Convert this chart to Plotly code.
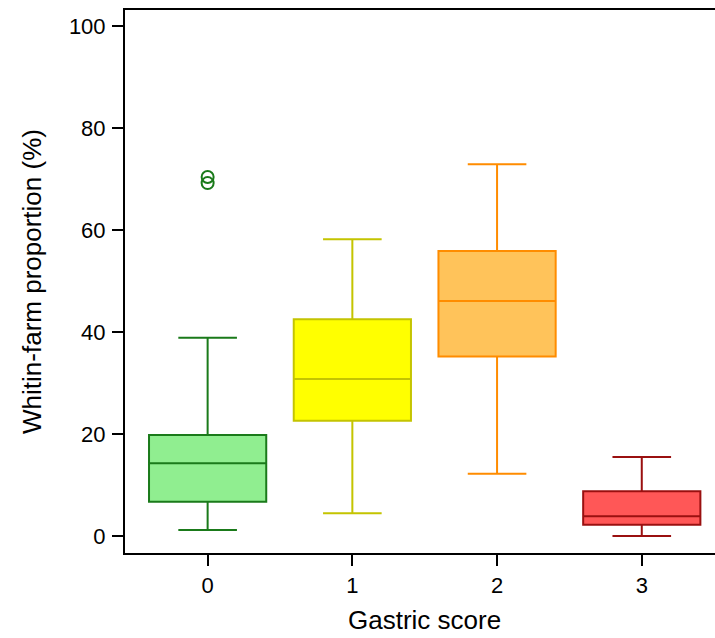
import plotly.graph_objects as go

categories = [0, 1, 2, 3]
tick_labels = ["0", "1", "2", "3"]
q1 = [6.7, 22.6, 35.2, 2.2]
median = [14.25, 30.8, 46.1, 3.9]
q3 = [19.8, 42.5, 55.9, 8.8]
lower_whisker = [1.2, 4.45, 12.2, 0.0]
upper_whisker = [38.9, 58.2, 72.9, 15.5]
outlier_x = [0, 0]
outlier_y = [70.4, 69.2]

fill_colors = ["#90ee90", "#ffff00", "#ffc35a", "#ff5757"]
line_colors = ["#1a7a1a", "#c4c400", "#ff8c00", "#9a1010"]

fig = go.Figure()
for i, c in enumerate(categories):
    fig.add_trace(go.Box(
        x=[c], q1=[q1[i]], median=[median[i]], q3=[q3[i]],
        lowerfence=[lower_whisker[i]], upperfence=[upper_whisker[i]],
        width=0.81, whiskerwidth=0.5, boxpoints=False,
        fillcolor=fill_colors[i],
        line=dict(color=line_colors[i], width=2),
        showlegend=False, hoverinfo="skip",
    ))

fig.add_trace(go.Scatter(
    x=outlier_x, y=outlier_y, mode="markers",
    marker=dict(symbol="circle-open", size=12, color=line_colors[0],
                line=dict(width=2, color=line_colors[0])),
    showlegend=False, hoverinfo="skip",
))

fig.update_layout(
    width=715, height=638,
    margin=dict(l=125, r=0, t=10, b=85),
    paper_bgcolor="white", plot_bgcolor="white",
    font=dict(family="Liberation Sans, Arial, sans-serif", color="black"),
    xaxis=dict(
        range=[-0.571, 3.506], tickvals=categories, ticktext=tick_labels,
        showline=True, linecolor="black", linewidth=2, mirror=True,
        ticks="outside", ticklen=11, tickwidth=2, tickcolor="black",
        showgrid=False, zeroline=False, automargin=False,
        tickfont=dict(size=22), ticklabelstandoff=1,
    ),
    yaxis=dict(
        range=[-3.33, 103.14], tickvals=[0, 20, 40, 60, 80, 100],
        showline=True, linecolor="black", linewidth=2,
        ticks="outside", ticklen=11, tickwidth=2, tickcolor="black",
        showgrid=False, zeroline=False, automargin=False,
        tickfont=dict(size=22), ticklabelstandoff=2,
        title=dict(text="Whitin-farm proportion (%)", font=dict(size=26), standoff=20),
    ),
    annotations=[dict(
        text="Gastric score", xref="paper", yref="paper",
        x=0.507, y=-0.124, xanchor="center", yanchor="middle",
        showarrow=False, font=dict(size=26), borderpad=0,
    )],
)

fig.write_html(
    "out.html",
    config={"displayModeBar": False},
    post_script="document.body.style.margin='0';document.body.style.overflow='hidden';",
)
